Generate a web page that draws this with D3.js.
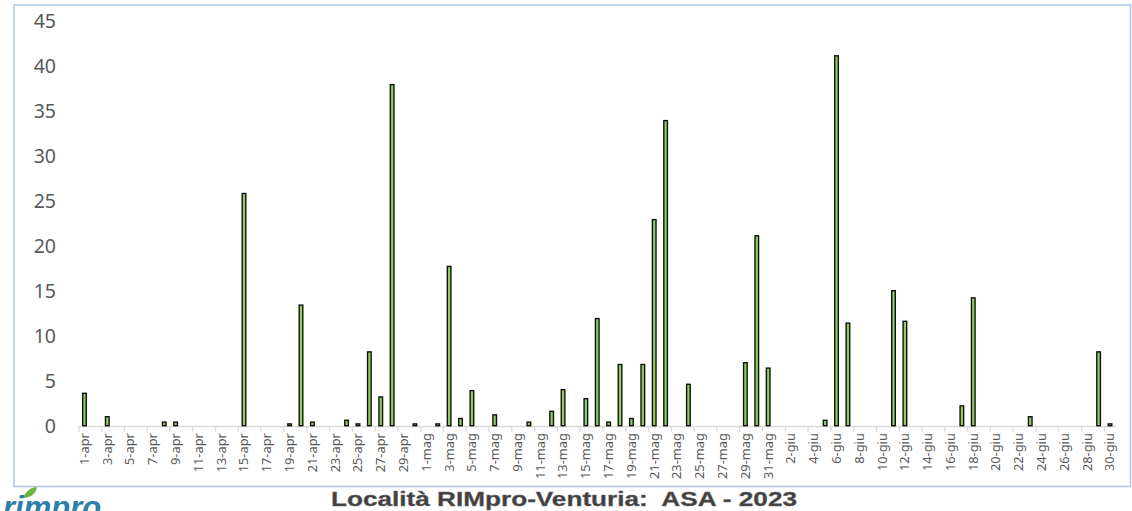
<!DOCTYPE html>
<html>
<head>
<meta charset="utf-8">
<script src="https://cdn.jsdelivr.net/npm/d3@7"></script>
<style>
  html, body { margin: 0; padding: 0; background: #ffffff; }
  svg { display: block; }
</style>
</head>
<body>
<svg id="chart" width="1132" height="511"></svg>
<script>
// ---- DATA ----
const months = [
  { name: "apr", days: 30 },
  { name: "mag", days: 31 },
  { name: "giu", days: 30 }
];
const categories = [];
months.forEach(m => { for (let d = 1; d <= m.days; d++) categories.push(d + "-" + m.name); });

// values (0 = no bar)
const aprValues = [3.6, 0, 1.0, 0, 0, 0, 0, 0.4, 0.4, 0, 0, 0, 0, 0, 25.8, 0, 0, 0, 0.2, 13.4,
                   0.4, 0, 0, 0.6, 0.2, 8.2, 3.2, 37.9, 0, 0.2];
const magValues = [0, 0.2, 17.7, 0.8, 3.9, 0, 1.2, 0, 0, 0.4, 0, 1.6, 4.0, 0, 3.0, 11.9,
                   0.4, 6.8, 0.8, 6.8, 22.9, 33.9, 0, 4.6, 0, 0, 0, 0, 7.0, 21.1, 6.4];
const giuValues = [0, 0, 0, 0, 0.6, 41.1, 11.4, 0, 0, 0, 15.0, 11.6, 0, 0, 0, 0, 2.2, 14.2, 0, 0,
                   0, 0, 1.0, 0, 0, 0, 0, 0, 8.2, 0.2];
const values = aprValues.concat(magValues, giuValues);
const yTicks = [0, 5, 10, 15, 20, 25, 30, 35, 40, 45];
const titleText = "Località RIMpro-Venturia:  ASA - 2023";
const logoText = "rimpro";

const data = categories.map((c, i) => ({ cat: c, value: values[i] }));

// ---- LAYOUT ----
const svg = d3.select("#chart");
const plotLeft = 78.8, plotRight = 1115.7, baseY = 425.7, topY = 20.7;

const x = d3.scaleBand().domain(categories).range([plotLeft, plotRight]).padding(0);
const y = d3.scaleLinear().domain([0, 45]).range([baseY, topY]);
const barW = 3.6;

// frame
svg.append("rect")
  .attr("x", 14).attr("y", 5).attr("width", 1116.5).attr("height", 481.5)
  .attr("fill", "none").attr("stroke", "#b4c7e7").attr("stroke-width", 1.6);

// y axis labels
const yAxis = d3.axisLeft(y).tickValues(yTicks).tickSize(0).tickPadding(0);
const gy = svg.append("g").attr("transform", "translate(56,0)").call(yAxis);
gy.select(".domain").remove();
gy.selectAll("text")
  .attr("font-family", "'Noto Sans', 'Open Sans', sans-serif")
  .attr("font-size", 19.5)
  .attr("fill", "#595959")
  .attr("dy", "0.35em");

// x axis line and tick marks
svg.append("line")
  .attr("x1", plotLeft).attr("x2", plotRight)
  .attr("y1", baseY + 0.8).attr("y2", baseY + 0.8)
  .attr("stroke", "#d9d9d9").attr("stroke-width", 1.3);

const tickCats = categories.filter((c, i) => i % 2 === 0);
svg.append("g").selectAll("line").data(tickCats).join("line")
  .attr("x1", d => x(d)).attr("x2", d => x(d))
  .attr("y1", baseY + 0.8).attr("y2", baseY + 6)
  .attr("stroke", "#d9d9d9").attr("stroke-width", 1.3);

// x labels (every second category)
svg.append("g").selectAll("text").data(tickCats).join("text")
  .attr("transform", d => `translate(${x(d) + x.bandwidth() / 2 + 4.4},${baseY + 7.5}) rotate(-90)`)
  .attr("text-anchor", "end")
  .attr("font-family", "'Noto Sans', 'Open Sans', sans-serif")
  .attr("font-size", 12.8)
  .attr("fill", "#595959")
  .text(d => d);

// bars
svg.append("g").selectAll("rect").data(data.filter(d => d.value > 0)).join("rect")
  .attr("x", d => x(d.cat) + x.bandwidth() / 2 - barW / 2)
  .attr("y", d => y(d.value))
  .attr("width", barW)
  .attr("height", d => Math.max(0.1, y(0) - y(d.value)))
  .attr("fill", "#93cf5c")
  .attr("stroke", "#111111")
  .attr("stroke-width", 1.4);

// title
svg.append("text")
  .attr("x", 331).attr("y", 506)
  .attr("xml:space", "preserve")
  .style("white-space", "pre")
  .attr("textLength", 466)
  .attr("lengthAdjust", "spacingAndGlyphs")
  .attr("font-family", "'Liberation Sans', Arial, sans-serif")
  .attr("font-weight", "bold")
  .attr("font-size", 20.5)
  .attr("fill", "#404040")
  .attr("stroke", "#6a6a6a").attr("stroke-width", 0.4)
  .text(titleText);

// logo
svg.append("path")
  .attr("d", "M23,498 C26,490 33,487 37,487 C36,494 30,498 23,498 Z")
  .attr("fill", "#6cb33f");
svg.append("text")
  .attr("x", 3).attr("y", 518)
  .attr("font-family", "'Liberation Sans', Arial, sans-serif")
  .attr("font-weight", "bold")
  .attr("font-style", "italic")
  .attr("font-size", 31)
  .attr("fill", "#2b7fa8")
  .text(logoText);
</script>
</body>
</html>
